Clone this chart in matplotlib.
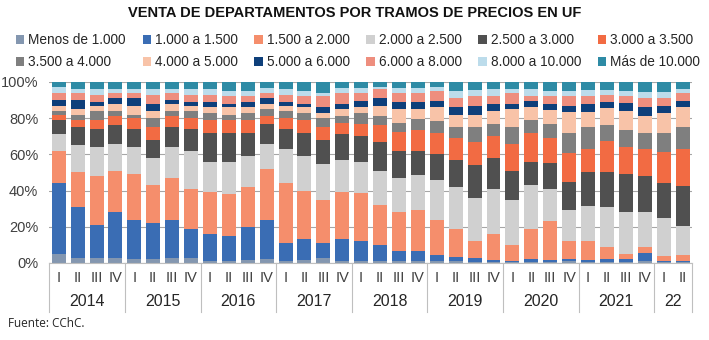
import matplotlib.pyplot as plt
import matplotlib.transforms as mtransforms
import numpy as np

# tramos de precio (UF) y colores
tramos = ['Menos de 1.000', '1.000 a 1.500', '1.500 a 2.000', '2.000 a 2.500',
          '2.500 a 3.000', '3.000 a 3.500', '3.500 a 4.000', '4.000 a 5.000',
          '5.000 a 6.000', '6.000 a 8.000', '8.000 a 10.000', 'Más de 10.000']
colores = ['#8497B0', '#3A6DB4', '#F58E6C', '#D0D0D0', '#505050', '#F26B43',
           '#7F7F7F', '#F8C3A8', '#0E3F7A', '#EE8E7E', '#BCDCEB', '#2E8BA5']

trimestres = ['I', 'II', 'III', 'IV'] * 8 + ['I', 'II']
anios = ['2014', '2015', '2016', '2017', '2018', '2019', '2020', '2021', '22']
n_trim_anio = [4, 4, 4, 4, 4, 4, 4, 4, 2]

# participacion (%) de cada tramo, 2014-I a 2022-II
menos_1000 = [5, 3, 3, 3, 2, 2, 3, 3, 1, 1, 1.5, 2, 1, 1.5, 3, 1, 1, 1, 1, 1, 1, 1,
              0.5, 0.5, 0.5, 0.5, 0.5, 1, 0.5, 0.5, 0.5, 1, 0.5, 0.5]
t1000_1500 = [39, 28, 18, 25, 22, 20, 21, 16, 15, 14, 18.5, 22, 10, 11.5, 8, 12, 11, 9,
              5.5, 5.5, 3.5, 2.3, 2.5, 1, 0.8, 1.5, 1, 1, 1, 1.5, 1.5, 4.7, 0.5, 0.5]
t1500_2000 = [18, 19, 27, 23, 25, 21, 23, 22, 23, 23, 22, 28, 33, 27, 24, 26, 26.5, 22,
              21.5, 22.5, 19.5, 15.7, 9, 14.5, 8.7, 17, 21.5, 10, 10.5, 6.6, 3, 3.3, 3, 3.5]
t2000_2500 = [9, 15, 16, 15, 15, 15, 17, 21, 17, 18, 17, 14, 19, 19, 19.5, 18, 17.5, 19,
              19, 19.5, 22, 23, 24, 25, 25, 24, 18, 17, 19.5, 22.4, 23, 19, 21, 16]
t2500_3000 = [8, 10, 10, 10, 10, 10, 11, 12, 16, 16, 13, 11, 11, 13, 13.5, 14, 14, 16,
              15, 13.5, 14, 15, 18, 17, 16, 13, 14, 15.5, 18.5, 19, 21, 20, 19, 22]
t3000_3500 = [3, 4, 5, 5, 6, 7, 6, 6, 7, 7, 7, 4, 6, 7, 7, 6.5, 7, 9, 10.5, 11.5, 12, 12,
              13, 12, 14.5, 16, 14, 16.5, 13, 17.5, 15, 15, 17.5, 20.5]
t3500_4000 = [2, 3, 5, 3, 2, 5, 3, 4, 4, 3, 4, 4, 4, 4, 5, 3.5, 6, 5, 5, 6, 6.5, 6, 8, 7,
              9.5, 7, 8, 11, 12, 8.5, 9.5, 9, 10.5, 12]
t4000_5000 = [3, 3, 3, 4, 5, 4, 4, 3, 3, 4, 3, 3, 3, 3, 3, 4, 3, 6, 7.5, 5.5, 7.5, 6.5,
              7, 7, 10, 7, 7.5, 11.5, 8.5, 9.5, 10.5, 9, 11, 11]
t5000_6000 = [3, 5, 2, 3, 4, 4, 2, 2, 3, 2, 3, 3, 2, 2, 3, 3, 3.5, 4, 4, 4, 3.5, 4.5, 5,
              4, 3, 3.5, 3.5, 3.5, 4.5, 3.5, 4.5, 5, 4, 3.5]
t6000_8000 = [4, 4, 4, 3, 3, 5, 4, 4, 4, 4, 3, 3, 4, 4, 6, 6, 4.5, 5, 5, 5, 5.5, 5, 5,
              4.5, 6, 3, 4.5, 5, 4, 4, 3.5, 5, 4, 4.5]
t8000_10000 = [3, 2, 3, 2, 2, 3, 2, 3, 3, 3, 3, 2.5, 3, 3, 2, 2.5, 2.5, 1, 2.5, 2.5, 2,
               4, 3.5, 3.5, 2, 3.5, 2.5, 3, 3.5, 2.5, 3, 3.5, 3.5, 2]
mas_10000 = [3, 4, 4, 4, 4, 4, 4, 4, 4, 5, 5, 3.5, 4, 5, 6, 3.5, 3.5, 3, 3.5, 3.5, 3, 5,
             4.5, 4, 4, 4, 5, 5, 4.5, 4.5, 5, 5.5, 5.5, 4]

series = [menos_1000, t1000_1500, t1500_2000, t2000_2500, t2500_3000, t3000_3500,
          t3500_4000, t4000_5000, t5000_6000, t6000_8000, t8000_10000, mas_10000]

plt.rcParams['font.family'] = ['Liberation Sans', 'DejaVu Sans']

fig = plt.figure(figsize=(7.09, 3.40), dpi=100)
ax = fig.add_axes([0.0695, 0.2265, 0.9065, 0.5324])

data = np.array(series, dtype=float)
data = data / data.sum(axis=0) * 100.
x = np.arange(data.shape[1])

bottom = np.zeros(len(x))
handles = []
for vals, lab, col in zip(data, tramos, colores):
    h = ax.bar(x, vals, 0.74, bottom=bottom, color=col, label=lab, zorder=2)
    handles.append(h)
    bottom += vals

ax.set_xlim(-0.5, len(x) - 0.5)
ax.set_ylim(0, 100)
ax.set_yticks(range(0, 101, 20))
ax.set_yticklabels([f'{v}%' for v in range(0, 101, 20)], fontsize=10.5, color='#404040')
ax.yaxis.grid(True, color='#A6A6A6', linewidth=0.8, zorder=0)
ax.set_axisbelow(True)
for s in ['left', 'right', 'top']:
    ax.spines[s].set_visible(False)
ax.spines['bottom'].set_color('#BFBFBF')
ax.tick_params(axis='y', length=0, pad=8)

ax.set_xticks(x)
ax.set_xticklabels(trimestres, fontsize=10.5, color='#404040')
ax.tick_params(axis='x', length=0, pad=6)

# años y separadores
trans = mtransforms.blended_transform_factory(ax.transData, ax.transAxes)
inicio = -0.5
ax.plot([inicio, inicio], [0, -0.27], color='#BFBFBF', lw=0.8, transform=trans, clip_on=False)
for anio, n in zip(anios, n_trim_anio):
    fin = inicio + n
    ax.text((inicio + fin) / 2, -0.21, anio, transform=trans, ha='center', va='center',
            fontsize=11.5, color='#262626')
    ax.plot([fin, fin], [0, -0.27], color='#BFBFBF', lw=0.8, transform=trans, clip_on=False)
    inicio = fin

fig.text(0.5, 0.962, 'VENTA DE DEPARTAMENTOS POR TRAMOS DE PRECIOS EN UF',
         ha='center', va='center', fontsize=10.5, fontweight='bold',
         family=['Liberation Sans Narrow', 'Liberation Sans'], color='#111111')

orden = [0, 6, 1, 7, 2, 8, 3, 9, 4, 10, 5, 11]
leg = fig.legend([handles[i] for i in orden], [tramos[i] for i in orden], ncol=6,
                 loc='upper left', bbox_to_anchor=(0.015, 0.80, 0.98, 0.118), mode='expand',
                 frameon=False, fontsize=9.8, handlelength=0.6, handleheight=0.6,
                 handletextpad=0.3, columnspacing=0.5, labelspacing=0.6, borderaxespad=0)
for t in leg.get_texts():
    t.set_color('#262626')

fig.text(0.011, 0.038, 'Fuente: CChC.', fontsize=8.5, color='#262626',
         family=['Open Sans', 'DejaVu Sans'])

fig.savefig('out.png', dpi=100)
